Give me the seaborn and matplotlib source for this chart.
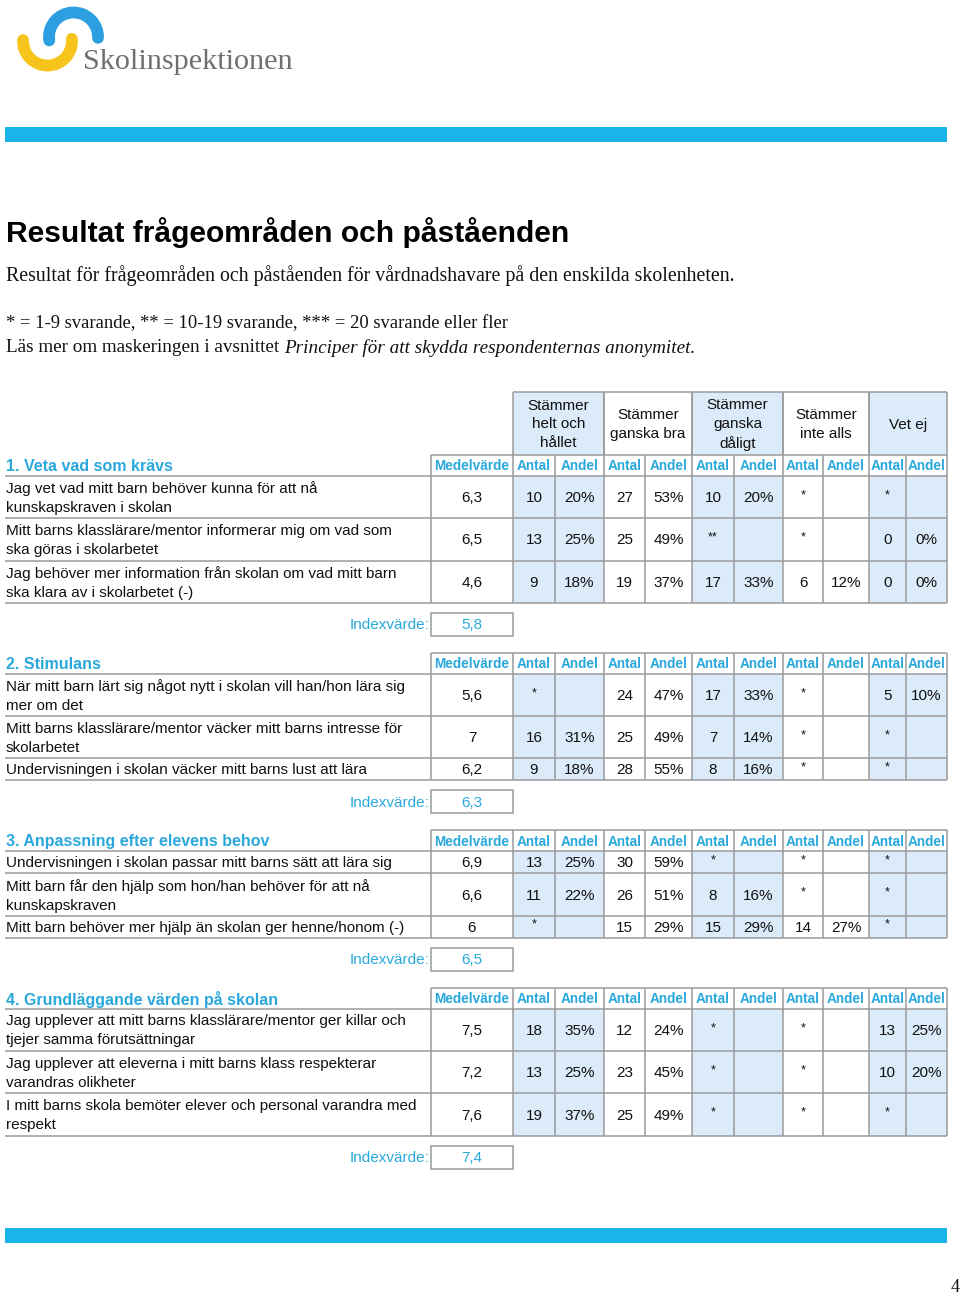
import numpy as np
import pandas as pd
import seaborn as sns
import matplotlib
matplotlib.use("Agg")
import matplotlib.pyplot as plt
from matplotlib.patches import Rectangle, Arc

sns.set_theme(style="white")
plt.rcParams['font.family'] = ['Liberation Sans', 'DejaVu Sans']

# ---------------- data ----------------
categories = ["Stämmer\nhelt och\nhållet", "Stämmer\nganska bra", "Stämmer\nganska\ndåligt",
              "Stämmer\ninte alls", "Vet ej"]
sub_headers = ["Medelvärde", "Antal", "Andel", "Antal", "Andel", "Antal", "Andel",
               "Antal", "Andel", "Antal", "Andel"]

section_titles = ["1. Veta vad som krävs", "2. Stimulans",
                  "3. Anpassning efter elevens behov", "4. Grundläggande värden på skolan"]

s1_statements = ["Jag vet vad mitt barn behöver kunna för att nå\nkunskapskraven i skolan",
                 "Mitt barns klasslärare/mentor informerar mig om vad som\nska göras i skolarbetet",
                 "Jag behöver mer information från skolan om vad mitt barn\nska klara av i skolarbetet (-)"]
s2_statements = ["När mitt barn lärt sig något nytt i skolan vill han/hon lära sig\nmer om det",
                 "Mitt barns klasslärare/mentor väcker mitt barns intresse för\nskolarbetet",
                 "Undervisningen i skolan väcker mitt barns lust att lära"]
s3_statements = ["Undervisningen i skolan passar mitt barns sätt att lära sig",
                 "Mitt barn får den hjälp som hon/han behöver för att nå\nkunskapskraven",
                 "Mitt barn behöver mer hjälp än skolan ger henne/honom (-)"]
s4_statements = ["Jag upplever att mitt barns klasslärare/mentor ger killar och\ntjejer samma förutsättningar",
                 "Jag upplever att eleverna i mitt barns klass respekterar\nvarandras olikheter",
                 "I mitt barns skola bemöter elever och personal varandra med\nrespekt"]

s1_medel = ["6,3", "6,5", "4,6"]
s2_medel = ["5,6", "7", "6,2"]
s3_medel = ["6,9", "6,6", "6"]
s4_medel = ["7,5", "7,2", "7,6"]

# Antal / Andel per category (helt och hållet, ganska bra, ganska dåligt, inte alls, vet ej)
s1_cells = [["10", "20%", "27", "53%", "10", "20%", "*", "", "*", ""],
            ["13", "25%", "25", "49%", "**", "", "*", "", "0", "0%"],
            ["9", "18%", "19", "37%", "17", "33%", "6", "12%", "0", "0%"]]
s2_cells = [["*", "", "24", "47%", "17", "33%", "*", "", "5", "10%"],
            ["16", "31%", "25", "49%", "7", "14%", "*", "", "*", ""],
            ["9", "18%", "28", "55%", "8", "16%", "*", "", "*", ""]]
s3_cells = [["13", "25%", "30", "59%", "*", "", "*", "", "*", ""],
            ["11", "22%", "26", "51%", "8", "16%", "*", "", "*", ""],
            ["*", "", "15", "29%", "15", "29%", "14", "27%", "*", ""]]
s4_cells = [["18", "35%", "12", "24%", "*", "", "*", "", "13", "25%"],
            ["13", "25%", "23", "45%", "*", "", "*", "", "10", "20%"],
            ["19", "37%", "25", "49%", "*", "", "*", "", "*", ""]]

index_values = ["5,8", "6,3", "6,5", "7,4"]

statements = [s1_statements, s2_statements, s3_statements, s4_statements]
medels = [s1_medel, s2_medel, s3_medel, s4_medel]
cells = [s1_cells, s2_cells, s3_cells, s4_cells]

# ---------------- style ----------------
CYAN = "#2aa8dc"
BAR = "#1bb4e9"
SHADE = "#dcebf9"
GRID = "#9a9a9a"
LW = 1.1

col_edges = [431, 513, 555, 604, 645, 692, 734, 783, 823, 869, 906, 947]
shaded_cols = {1, 2, 5, 6, 9, 10}
X_LEFT = 5

fig = plt.figure(figsize=(9.6, 12.95), dpi=100)
ax = fig.add_axes([0, 0, 1, 1])
ax.set_xlim(0, 960)
ax.set_ylim(1295, 0)
ax.axis("off")

# ---------------- logo ----------------
ax.add_patch(Arc((47.5, 41), 49, 49, theta1=-5, theta2=182, color="#f6c41a", lw=8.5,
                 capstyle="round"))
ax.add_patch(Arc((73.5, 37), 49, 49, theta1=172, theta2=362, color="#2d9ee0", lw=8.5,
                 capstyle="round"))
ax.text(83, 62, "Skolinspektionen", family=["Liberation Serif", "DejaVu Serif"],
        fontsize=21.8, color="#707070", va="center", ha="left")

# ---------------- bars ----------------
ax.add_patch(Rectangle((5, 127), 942, 15, color=BAR, lw=0))
ax.add_patch(Rectangle((5, 1228), 942, 15, color=BAR, lw=0))

# ---------------- headings ----------------
ax.text(6, 233, "Resultat frågeområden och påståenden", fontsize=21.6, weight="bold",
        color="black", va="center", ha="left")
serif = ["Liberation Serif", "DejaVu Serif"]
ax.text(6, 276, "Resultat för frågeområden och påståenden för vårdnadshavare på den enskilda skolenheten.",
        family=serif, fontsize=14.3, va="center", ha="left", color="#111111")
ax.text(6, 324, "* = 1-9 svarande, ** = 10-19 svarande, *** = 20 svarande eller fler",
        family=serif, fontsize=13.4, va="center", ha="left", color="#111111")
t1 = ax.text(6, 348, "Läs mer om maskeringen i avsnittet ", family=serif, fontsize=13.8,
             va="center", ha="left", color="#111111")
fig.canvas.draw()
bb = t1.get_window_extent(renderer=fig.canvas.get_renderer())
x_end = ax.transData.inverted().transform((bb.x1, bb.y0))[0]
ax.text(x_end, 348, "Principer för att skydda respondenternas anonymitet.", family=serif,
        fontsize=13.8, style="italic", va="center", ha="left", color="#111111")

ax.text(951, 1287, "4", family=serif, fontsize=13, va="center", ha="left", color="#111111")


def hline(x0, x1, y):
    ax.plot([x0, x1], [y, y], color=GRID, lw=LW, solid_capstyle="butt", zorder=3)


def vline(x, y0, y1):
    ax.plot([x, x], [y0, y1], color=GRID, lw=LW, solid_capstyle="butt", zorder=3)


# ---------------- category header (only above section 1) ----------------
HY0, HY1 = 392, 455
for k, cat in enumerate(categories):
    x0 = col_edges[1 + 2 * k]
    x1 = col_edges[3 + 2 * k]
    if k % 2 == 0:
        ax.add_patch(Rectangle((x0, HY0), x1 - x0, HY1 - HY0, color=SHADE, lw=0, zorder=1))
    ax.text((x0 + x1) / 2, (HY0 + HY1) / 2 + 1, cat, fontsize=11, ha="center", va="center",
            linespacing=1.42, color="#111111", zorder=4)
    vline(x0, HY0, HY1)
    vline(x1, HY0, HY1)
hline(col_edges[1], col_edges[-1], HY0)

# ---------------- sections ----------------
ROW2 = 42.3
ROW1 = 22.0
HDR = 21.0
y = 455.0
for s in range(4):
    hy0, hy1 = y, y + HDR
    # section title
    ax.text(6, (hy0 + hy1) / 2 + 1, section_titles[s], fontsize=11.5, weight="bold",
            color=CYAN, ha="left", va="center", zorder=4)
    # sub headers
    for c, lab in enumerate(sub_headers):
        x0, x1 = col_edges[c], col_edges[c + 1]
        ax.text((x0 + x1) / 2, (hy0 + hy1) / 2 + 1, lab, fontsize=9.8, weight="bold",
                color=CYAN, ha="center", va="center", zorder=4)
    hline(col_edges[0], col_edges[-1], hy0)
    for xe in col_edges:
        vline(xe, hy0, hy1)
    hline(X_LEFT, col_edges[-1], hy1)

    ry = hy1
    for r, stmt in enumerate(statements[s]):
        h = ROW2 if "\n" in stmt else ROW1
        r0, r1 = ry, ry + h
        cy = (r0 + r1) / 2
        for c in range(11):
            x0, x1 = col_edges[c], col_edges[c + 1]
            if c in shaded_cols:
                ax.add_patch(Rectangle((x0, r0), x1 - x0, h, color=SHADE, lw=0, zorder=1))
        ax.text(6, cy + 1, stmt, fontsize=11, ha="left", va="center", linespacing=1.45,
                color="#111111", zorder=4)
        ax.text((col_edges[0] + col_edges[1]) / 2, cy + 1, medels[s][r], fontsize=11,
                ha="center", va="center", color="#111111", zorder=4)
        for c, val in enumerate(cells[s][r]):
            x0, x1 = col_edges[c + 1], col_edges[c + 2]
            if val.startswith("*"):
                ax.text((x0 + x1) / 2, cy - 2, val, fontsize=9, ha="center", va="center",
                        color="#111111", zorder=4)
            elif val:
                ax.text((x0 + x1) / 2, cy + 1, val, fontsize=11, ha="center", va="center",
                        color="#111111", zorder=4)
        for xe in col_edges:
            vline(xe, r0, r1)
        hline(X_LEFT, col_edges[-1], r1)
        ry = r1

    # index box
    by0, by1 = ry + 10, ry + 33
    ax.add_patch(Rectangle((col_edges[0], by0), col_edges[1] - col_edges[0], by1 - by0,
                           fill=False, ec=GRID, lw=LW, zorder=3))
    ax.text(col_edges[0] - 2, (by0 + by1) / 2 + 1, "Indexvärde:", fontsize=11, color=CYAN,
            ha="right", va="center", zorder=4)
    ax.text((col_edges[0] + col_edges[1]) / 2, (by0 + by1) / 2 + 1, index_values[s],
            fontsize=11, color=CYAN, ha="center", va="center", zorder=4)
    y = by1 + 17

fig.savefig("out.png", dpi=100)
